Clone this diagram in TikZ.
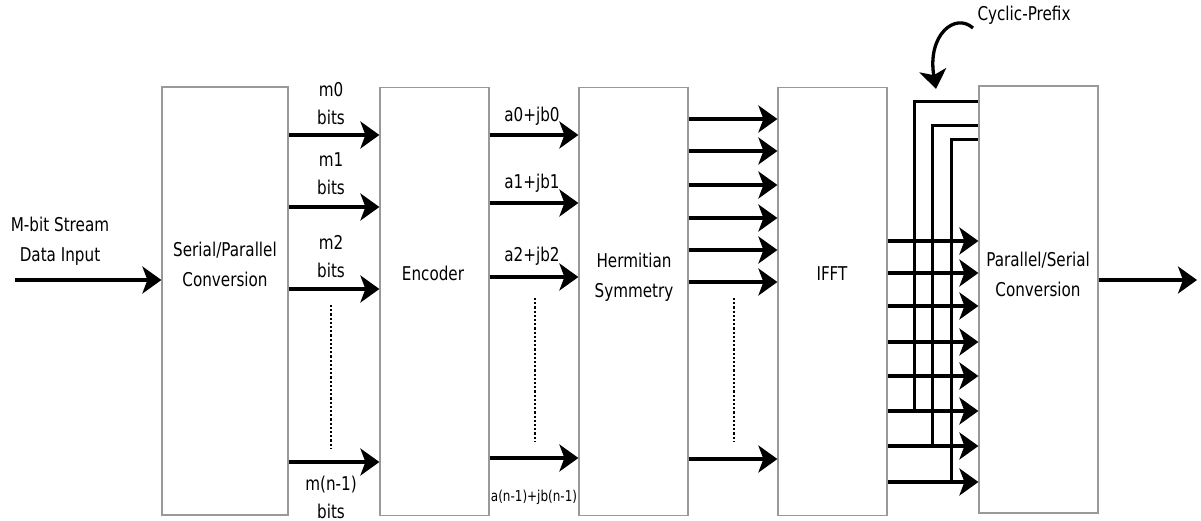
\documentclass[tikz,border=0pt]{standalone}
\usepackage{fontspec}
\setmainfont{DejaVu Sans}[FakeStretch=0.8]
\usetikzlibrary{arrows.meta, positioning, calc}

\tikzset{
  block/.style={draw=black!40, line width=1.2pt, minimum width=109pt, minimum height=428pt, inner sep=0pt},
  blocktext/.style={align=center, font=\fontsize{19}{30}\selectfont, inner sep=0pt},
  lbl/.style={align=center, font=\fontsize{19}{28}\selectfont, inner sep=0pt},
  sig/.style={line width=3.3pt, -{Stealth[length=19pt, width=27pt, inset=5pt]}},
  wire/.style={line width=3pt},
  dots/.style={line width=2.2pt, dotted}
}

\begin{document}
\begin{tikzpicture}[x=1pt, y=-1pt]
  \useasboundingbox (0,0) rectangle (1201,521);

  % blocks
  \node[block, minimum width=126pt] (sp) at (225,301) {};
  \node[block] (enc) at (434.5,301.5) {};
  \node[block] (herm) at (633.5,301.5) {};
  \node[block] (ifft) at (832.5,301.5) {};
  \node[block, minimum width=119pt, minimum height=427pt] (ps) at (1038.5,299.5) {};

  \node[blocktext] (sptxt) at (225,264) {Serial/Parallel\\Conversion};
  \node[blocktext] (enctxt) at (433,273) {Encoder};
  \node[blocktext] (hermtxt) at (634,277) {Hermitian\\Symmetry};
  \node[blocktext] (iffttxt) at (832,274) {IFFT};
  \node[blocktext] (pstxt) at (1038,274) {Parallel/Serial\\Conversion};
  \node[blocktext] (intxt) at (60,241) {M-bit Stream\\Data Input};
  \node[blocktext] (cptxt) at (1024,15) {Cyclic-Prefix};

  % labels on the parallel lines
  \node[lbl] (m0) at (331,104) {m0\\bits};
  \node[lbl] (m1) at (331,174) {m1\\bits};
  \node[lbl] (m2) at (331,257) {m2\\bits};
  \node[lbl] (mn) at (331,497) {m(n-1)\\bits};
  \node[lbl] (a0) at (532,116) {a0+jb0};
  \node[lbl] (a1) at (532,183) {a1+jb1};
  \node[lbl] (a2) at (532,256) {a2+jb2};
  \node[lbl, font=\fontsize{15}{18}\selectfont] (an) at (534,497) {a(n-1)+jb(n-1)};

  \draw[dots] (331,305) -- (331,448);
  \draw[dots] (535,298) -- (535,442);
  \draw[dots] (734,298) -- (734,442);

  % signal lines
  \coordinate (src) at (15,280);
  \coordinate (sink) at (1197,280);
  \draw[sig] (src) -- (sp.west |- src);
  \foreach \y in {135,207,289,462}
    \draw[sig] (sp.east |- 0,\y) -- (enc.west |- 0,\y);
  \foreach \y in {135,203,277,458}
    \draw[sig] (enc.east |- 0,\y) -- (herm.west |- 0,\y);
  \foreach \y in {119,151,185,218,250,282,459}
    \draw[sig] (herm.east |- 0,\y) -- (ifft.west |- 0,\y);
  \foreach \y in {241,273,306,342,376,411,446,482}
    \draw[sig] (ifft.east |- 0,\y) -- (ps.west |- 0,\y);
  \foreach \x/\yt/\yb in {914/102/411, 932/126/446, 951/140/482}
    \draw[wire] (\x,\yb) -- (\x,\yt) -- (ps.west |- 0,\yt);
  \draw[sig] (ps.east |- sink) -- (sink);

  % cyclic prefix pointer
  \draw[sig] (973,28) .. controls (955,12) and (927,35) .. (936,89);
\end{tikzpicture}
\end{document}
